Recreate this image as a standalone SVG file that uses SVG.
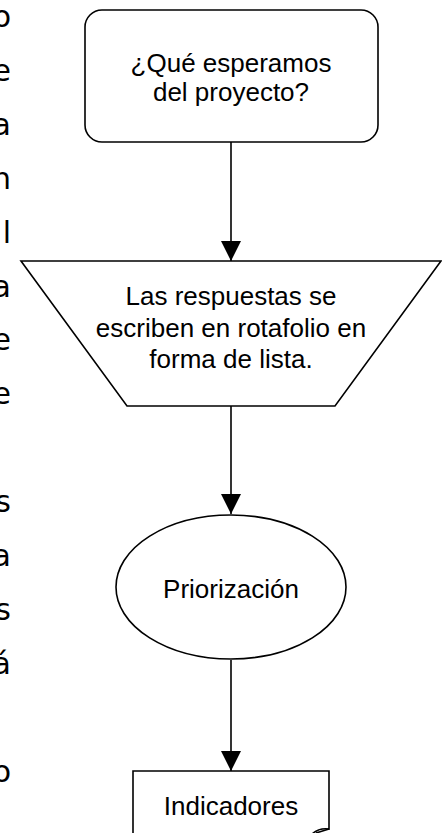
<svg xmlns="http://www.w3.org/2000/svg" width="442" height="833" viewBox="0 0 442 833">
<style>
.shape{fill:#fff;stroke:#000;stroke-width:1.6}
.conn{stroke:#000;stroke-width:1.6;fill:none}
.lbl{font-family:"Liberation Sans",Arial,sans-serif;font-size:26px;fill:#000;text-anchor:middle}
.side{font-family:"Comic Sans MS","DejaVu Sans",sans-serif;font-size:30px;fill:#000;text-anchor:end}
</style>
<defs>
<marker id="ah" markerWidth="20" markerHeight="20" viewBox="0 0 20 20" refX="20" refY="10" orient="auto" markerUnits="userSpaceOnUse">
<path d="M0,0 L20,10 L0,20 Z" fill="#000"/>
</marker>
</defs>
<rect width="442" height="833" fill="#fff"/>
<g id="side-text">
<text class="side" x="11" y="27">o</text>
<text class="side" x="11" y="81">e</text>
<text class="side" x="11" y="135">a</text>
<text class="side" x="11" y="189">n</text>
<text class="side" x="11" y="243">l</text>
<text class="side" x="11" y="297">a</text>
<text class="side" x="11" y="350">e</text>
<text class="side" x="11" y="404">e</text>
<text class="side" x="11" y="512">s</text>
<text class="side" x="11" y="566">a</text>
<text class="side" x="11" y="620">s</text>
<text class="side" x="11" y="674">á</text>
<text class="side" x="11" y="782">o</text>
</g>
<g id="connectors">
<line class="conn" x1="231" y1="142" x2="231" y2="261" marker-end="url(#ah)"/>
<line class="conn" x1="231" y1="406" x2="231" y2="514" marker-end="url(#ah)"/>
<line class="conn" x1="231" y1="660" x2="231" y2="771" marker-end="url(#ah)"/>
</g>
<g id="node-start">
<rect class="shape" x="85" y="10" width="293" height="132" rx="17" ry="17"/>
<text class="lbl" x="231" y="72">¿Qué esperamos</text>
<text class="lbl" x="231" y="101">del proyecto?</text>
</g>
<g id="node-respuestas">
<polygon class="shape" points="21,261 441,261 335,406 127,406"/>
<text class="lbl" x="231" y="305">Las respuestas se</text>
<text class="lbl" x="231" y="337">escriben en rotafolio en</text>
<text class="lbl" x="231" y="368">forma de lista.</text>
</g>
<g id="node-priorizacion">
<ellipse class="shape" cx="231" cy="587" rx="115" ry="72"/>
<text class="lbl" x="231" y="598">Priorización</text>
</g>
<g id="node-indicadores">
<path class="shape" d="M133,771 H329 V829 C322,828 316,830 311,835 L133,835 Z"/>
<path class="conn" d="M329,829 L316,833"/>
<text class="lbl" x="231" y="815">Indicadores</text>
</g>
</svg>
